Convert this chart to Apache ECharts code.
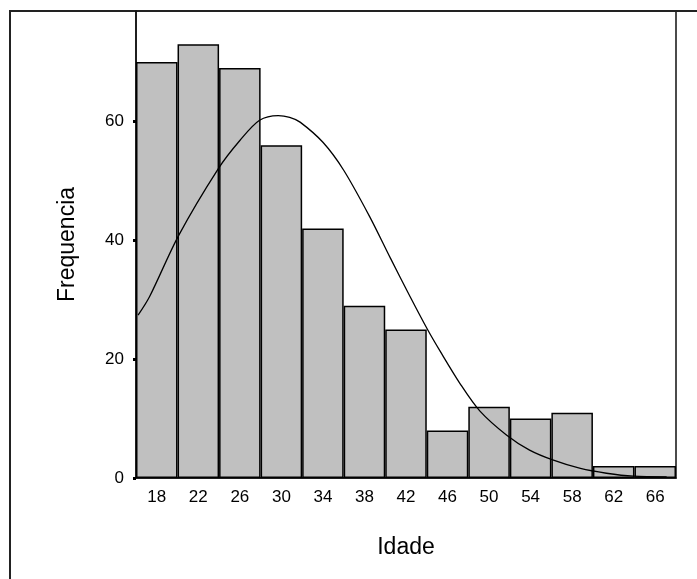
<!DOCTYPE html>
<html>
<head>
<meta charset="utf-8">
<script src="https://cdn.jsdelivr.net/npm/echarts@6/dist/echarts.min.js"></script>
<style>
  html, body { margin: 0; padding: 0; background: #fff; }
  #main { width: 697px; height: 579px; }
</style>
</head>
<body>
<div id="main"></div>
<script>
// bin midpoints (age classes of width 4, from 16 to 68)
const binLabels = ["18", "22", "26", "30", "34", "38", "42", "46", "50", "54", "58", "62", "66"];
const counts = [70, 73, 69, 56, 42, 29, 25, 8, 12, 10, 11, 2, 2];

// normal curve
const curveX = [16.2, 17.3, 20.1, 23.9, 26.0, 27.9, 29.7, 30.8, 31.8, 34.0, 36.0, 38.5, 40.5, 42.4, 44.1, 45.3, 47.2, 49.1, 51.7, 53.9, 56.2, 58.8, 61.3, 63.9, 67.1];
const curveY = [27.4, 30.5, 40.8, 52.0, 56.8, 60.2, 61.0, 60.7, 59.9, 56.5, 51.8, 44.0, 37.0, 30.5, 24.9, 21.3, 15.9, 11.3, 7.2, 4.7, 3.0, 1.6, 0.8, 0.3, 0.2];

const font = "'Liberation Sans', Arial, sans-serif";

const chart = echarts.init(document.getElementById("main"));
chart.setOption({
  animation: false,
  textStyle: { fontFamily: font },
  grid: {
    left: 136,
    right: 21,
    top: 11,
    bottom: 101,
    show: true,
    borderColor: "#111",
    borderWidth: 1.5,
  },
  graphic: [
    {
      type: "rect",
      shape: { x: 10, y: 11, width: 720, height: 620 },
      style: { fill: "none", stroke: "#222", lineWidth: 2 },
      silent: true,
    },
  ],
  xAxis: [
    {
      type: "category",
      data: binLabels,
      name: "Idade",
      nameLocation: "middle",
      nameGap: 58,
      nameTextStyle: { fontSize: 23, color: "#000", fontFamily: font },
      axisLine: { lineStyle: { color: "#111", width: 1.5 } },
      axisTick: { alignWithLabel: true, length: 3, lineStyle: { color: "#000", width: 3 } },
      axisLabel: { fontSize: 17, color: "#000", margin: 11, fontFamily: font },
      splitLine: { show: false },
    },
    {
      type: "value",
      min: 16,
      max: 68,
      show: false,
    },
  ],
  yAxis: {
    type: "value",
    min: 0,
    max: 78.6,
    interval: 20,
    name: "Frequencia",
    nameLocation: "middle",
    nameGap: 57,
    nameTextStyle: { fontSize: 23, color: "#000", fontFamily: font },
    axisLine: { show: true, lineStyle: { color: "#111", width: 1.5 } },
    axisTick: { show: true, length: 3, lineStyle: { color: "#000", width: 3 } },
    axisLabel: { fontSize: 17, color: "#000", margin: 12, fontFamily: font, showMaxLabel: false },
    splitLine: { show: false },
  },
  series: [
    {
      type: "bar",
      data: counts,
      xAxisIndex: 0,
      barCategoryGap: "0%",
      itemStyle: { color: "#c0c0c0", borderColor: "#000", borderWidth: 1.5 },
      silent: true,
    },
    {
      type: "line",
      xAxisIndex: 1,
      data: curveX.map((x, i) => [x, curveY[i]]),
      smooth: 0.3,
      showSymbol: false,
      lineStyle: { color: "#000", width: 1.3 },
      silent: true,
    },
  ],
});
</script>
</body>
</html>
